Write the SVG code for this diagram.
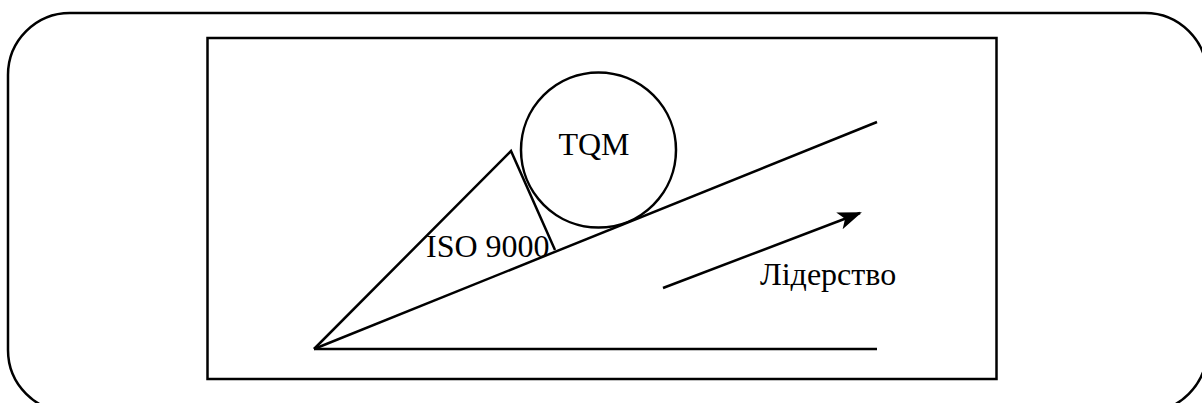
<svg xmlns="http://www.w3.org/2000/svg" width="1202" height="403" viewBox="0 0 1202 403">
<style>
.s{fill:none;stroke:#000;stroke-width:2.5}
.t{font-family:'Liberation Serif','DejaVu Serif',serif;font-size:32px;fill:#000}
</style>
<defs>
<marker id="ah" markerWidth="24" markerHeight="18" refX="22" refY="9" orient="auto" markerUnits="userSpaceOnUse" viewBox="0 0 24 18">
<path d="M0,0 L24,9 L0,18 L6,9 Z" fill="#000"/>
</marker>
</defs>
<rect x="0" y="0" width="1202" height="403" fill="#fff"/>
<g id="frame">
<rect class="s" x="8" y="13" width="1199" height="399" rx="62" ry="62" stroke-width="2.2"/>
<rect class="s" x="207.5" y="38" width="789" height="341" stroke-width="3"/>
</g>
<g id="connectors">
<line class="s" x1="314" y1="349" x2="877" y2="349"/>
<line class="s" x1="314" y1="349" x2="877" y2="122"/>
<polyline class="s" points="314,349 511,151 555,250"/>
<line class="s" x1="663" y1="288" x2="860" y2="213" stroke-width="3.5" marker-end="url(#ah)"/>
</g>
<g id="tqm">
<circle class="s" cx="598.5" cy="150" r="77.5"/>
<text class="t" x="594" y="155" text-anchor="middle">TQM</text>
</g>
<g id="iso">
<text class="t" x="426" y="257">ISO 9000</text>
</g>
<g id="leadership">
<text class="t" x="760" y="285">Лідерство</text>
</g>
</svg>
